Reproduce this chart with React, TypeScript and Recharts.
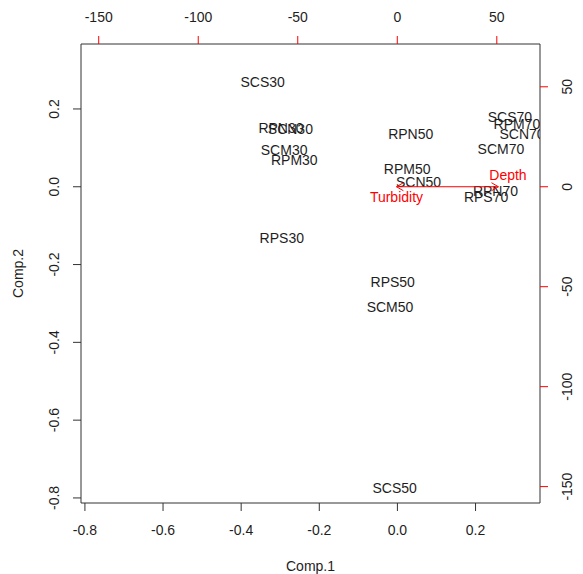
import React from 'react';
import { ScatterChart, Scatter, XAxis, YAxis } from 'recharts';

// sample scores (Comp.1 / Comp.2)
const sampleNames = [
  'SCS30', 'RPN30', 'SCN30', 'SCM30', 'RPM30', 'RPS30',
  'RPN50', 'RPM50', 'SCN50', 'RPS50', 'SCM50', 'SCS50',
  'SCS70', 'RPM70', 'SCN70', 'SCM70', 'RPN70', 'RPS70',
];
const comp1 = [
  -0.345, -0.298, -0.274, -0.29, -0.264, -0.296,
  0.034, 0.025, 0.054, -0.012, -0.019, -0.007,
  0.288, 0.306, 0.319, 0.265, 0.251, 0.227,
];
const comp2 = [
  0.27, 0.15, 0.147, 0.093, 0.069, -0.132,
  0.135, 0.045, 0.013, -0.245, -0.309, -0.775,
  0.18, 0.161, 0.135, 0.097, -0.01, -0.026,
];

// variable loadings (top / right scale)
const varNames = ['Depth', 'Turbidity'];
const varLabelX = [55.6, -0.4];
const varLabelY = [5.9, -5.0];
const varArrowX = [50.8, -0.4];
const varArrowY = [0, 0];

const compTicks = [-0.8, -0.6, -0.4, -0.2, 0, 0.2];
const loadTicks = [-150, -100, -50, 0, 50];

const FONT = '"Liberation Sans", Arial, sans-serif';
const INK = '#1e1e1e';
const RED = '#ff0000';

const samples = sampleNames.map((name, i) => ({ name, x: comp1[i], y: comp2[i] }));
const varLabels = varNames.map((name, i) => ({ name, x: varLabelX[i], y: varLabelY[i] }));
const arrows = varNames.map((name, i) => [
  { x: 0, y: 0, tip: false },
  { x: varArrowX[i], y: varArrowY[i], tip: true },
]);

const SampleLabel = (props: any) => (
  <text x={props.cx} y={props.cy} dy="0.35em" textAnchor="middle" fontFamily={FONT} fontSize={14} fill={INK}>
    {props.payload.name}
  </text>
);

const VarLabel = (props: any) => (
  <text x={props.cx} y={props.cy} dy="0.35em" textAnchor="middle" fontFamily={FONT} fontSize={14} fill={RED}>
    {props.payload.name}
  </text>
);

const ArrowHead = (props: any) => {
  if (!props.payload.tip) return <g />;
  const { cx, cy } = props;
  const dir = props.payload.x < 0 ? -1 : 1;
  const len = 8;
  const a = Math.PI / 6;
  const x1 = cx - dir * len * Math.cos(a);
  const y1 = cy - len * Math.sin(a);
  const y2 = cy + len * Math.sin(a);
  return (
    <path d={`M${x1},${y1} L${cx},${cy} L${x1},${y2}`} fill="none" stroke={RED} strokeWidth={1} />
  );
};

const fmt1 = (v: number) => v.toFixed(1);

const BottomTick = (p: any) => (
  <text x={p.x} y={p.y + 19} dy="0.35em" textAnchor="middle" fontFamily={FONT} fontSize={14} fill={INK}>
    {fmt1(p.payload.value)}
  </text>
);
const TopTick = (p: any) => (
  <text x={p.x} y={p.y - 19} dy="0.35em" textAnchor="middle" fontFamily={FONT} fontSize={14} fill={INK}>
    {p.payload.value}
  </text>
);
const LeftTick = (p: any) => {
  const x = p.x - 19;
  return (
    <text x={x} y={p.y} dy="0.35em" transform={`rotate(-90, ${x}, ${p.y})`} textAnchor="middle" fontFamily={FONT} fontSize={14} fill={INK}>
      {fmt1(p.payload.value)}
    </text>
  );
};
const RightTick = (p: any) => {
  const x = p.x + 19;
  return (
    <text x={x} y={p.y} dy="0.35em" transform={`rotate(-90, ${x}, ${p.y})`} textAnchor="middle" fontFamily={FONT} fontSize={14} fill={INK}>
      {p.payload.value}
    </text>
  );
};

const XTitle = (p: any) => {
  const vb = p.viewBox;
  return (
    <text x={vb.x + vb.width / 2} y={vb.y + 63} dy="0.35em" textAnchor="middle" fontFamily={FONT} fontSize={14} fill={INK}>
      Comp.1
    </text>
  );
};
const YTitle = (p: any) => {
  const vb = p.viewBox;
  const x = vb.x + 18;
  const y = vb.y + vb.height / 2;
  return (
    <text x={x} y={y} dy="0.35em" transform={`rotate(-90, ${x}, ${y})`} textAnchor="middle" fontFamily={FONT} fontSize={14} fill={INK}>
      Comp.2
    </text>
  );
};

export default function App() {
  return (
    <div style={{ position: 'absolute', left: 0, top: 0, width: 583, height: 574, background: '#fff' }}>
      <ScatterChart width={583} height={574} margin={{ top: 0, right: 0, bottom: 0, left: 0 }}>
        <XAxis
          xAxisId="bottom"
          orientation="bottom"
          type="number"
          dataKey="x"
          domain={[-0.81, 0.365]}
          allowDataOverflow
          ticks={compTicks}
          height={71}
          tickSize={8}
          tickMargin={0}
          tick={<BottomTick />}
          axisLine={{ stroke: '#333' }}
          tickLine={{ stroke: '#333' }}
          label={XTitle}
        />
        <XAxis
          xAxisId="top"
          orientation="top"
          type="number"
          dataKey="x"
          domain={[-158.9, 71.7]}
          allowDataOverflow
          ticks={loadTicks}
          height={44}
          tickSize={8}
          tickMargin={0}
          tick={<TopTick />}
          axisLine={{ stroke: '#333' }}
          tickLine={{ stroke: RED }}
        />
        <YAxis
          yAxisId="left"
          orientation="left"
          type="number"
          dataKey="y"
          domain={[-0.813, 0.367]}
          allowDataOverflow
          ticks={compTicks}
          width={81}
          tickSize={8}
          tickMargin={0}
          tick={<LeftTick />}
          axisLine={{ stroke: '#333' }}
          tickLine={{ stroke: '#333' }}
          label={YTitle}
        />
        <YAxis
          yAxisId="right"
          orientation="right"
          type="number"
          dataKey="y"
          domain={[-158.2, 71.4]}
          allowDataOverflow
          ticks={loadTicks}
          width={43}
          tickSize={8}
          tickMargin={0}
          tick={<RightTick />}
          axisLine={{ stroke: '#333' }}
          tickLine={{ stroke: RED }}
        />
        <Scatter
          data={samples}
          xAxisId="bottom"
          yAxisId="left"
          shape={SampleLabel}
          isAnimationActive={false}
        />
        {arrows.map((pts, i) => (
          <Scatter
            key={varNames[i]}
            data={pts}
            xAxisId="top"
            yAxisId="right"
            line={{ stroke: RED, strokeWidth: 1 }}
            lineType="joint"
            shape={ArrowHead}
            isAnimationActive={false}
          />
        ))}
        <Scatter
          data={varLabels}
          xAxisId="top"
          yAxisId="right"
          shape={VarLabel}
          isAnimationActive={false}
        />
      </ScatterChart>
    </div>
  );
}
